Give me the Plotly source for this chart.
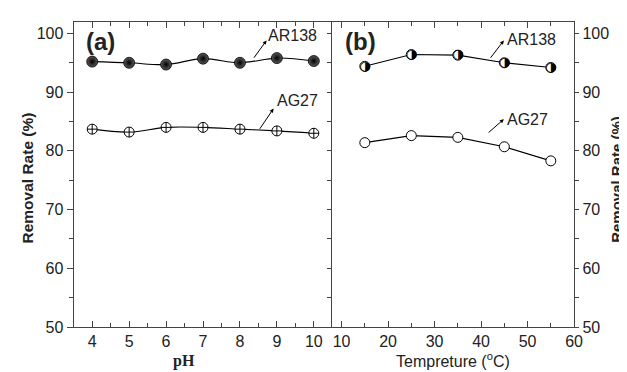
import plotly.graph_objects as go

# ---- data ----
ph = [4, 5, 6, 7, 8, 9, 10]
ph_ar138 = [95.2, 95.0, 94.7, 95.7, 95.0, 95.8, 95.3]
ph_ag27 = [83.7, 83.2, 84.0, 84.0, 83.7, 83.4, 83.0]

temp = [15, 25, 35, 45, 55]
t_ar138 = [94.4, 96.4, 96.3, 95.0, 94.2]
t_ag27 = [81.4, 82.6, 82.3, 80.7, 78.3]

y_ticks = [50, 60, 70, 80, 90, 100]

W, H = 627, 372
L_px, M_px, R_px = 66.7, 329.0, 574.3
T_px, B_px = 14.0, 327.0

AX = "#444444"
FONT = "Liberation Sans, Arial, sans-serif"

fig = go.Figure()

fig.add_trace(go.Scatter(x=ph, y=ph_ar138, mode="lines+markers",
                         line=dict(color="black", width=1.1, shape="spline"),
                         marker=dict(symbol="circle", size=11, color="#5a5a5a",
                                     gradient=dict(type="radial", color="#000000"),
                                     line=dict(color="black", width=0.8)),
                         xaxis="x", yaxis="y", showlegend=False))
fig.add_trace(go.Scatter(x=ph, y=ph_ag27, mode="lines+markers",
                         line=dict(color="black", width=1.1, shape="spline"),
                         marker=dict(symbol="circle-cross", size=10, color="white",
                                     line=dict(color="black", width=1)),
                         xaxis="x", yaxis="y", showlegend=False))

fig.add_trace(go.Scatter(x=temp, y=t_ar138, mode="lines+markers",
                         line=dict(color="black", width=1.1),
                         marker=dict(symbol="circle", size=10, color="white",
                                     line=dict(color="black", width=1)),
                         xaxis="x2", yaxis="y2", showlegend=False))
fig.add_trace(go.Scatter(x=temp, y=t_ar138, mode="text", text=["◑"] * len(temp),
                         textfont=dict(family="DejaVu Sans", size=13, color="black"),
                         textposition="middle center",
                         xaxis="x2", yaxis="y2", showlegend=False, hoverinfo="skip"))
fig.add_trace(go.Scatter(x=temp, y=t_ag27, mode="lines+markers",
                         line=dict(color="black", width=1.1),
                         marker=dict(symbol="circle", size=10, color="white",
                                     line=dict(color="black", width=1)),
                         xaxis="x2", yaxis="y2", showlegend=False))

xd1 = [L_px / W, M_px / W]
xd2 = [M_px / W, R_px / W]
yd = [1 - B_px / H, 1 - T_px / H]

common_x = dict(showline=True, linecolor=AX, linewidth=1.3, mirror="allticks",
                ticks="inside", ticklen=6, tickwidth=1.2, tickcolor=AX,
                showgrid=False, zeroline=False,
                tickfont=dict(family=FONT, size=16, color="#222"))
common_y = dict(showline=True, linecolor=AX, linewidth=1.3,
                ticks="outside", tickwidth=1.2, tickcolor=AX,
                showgrid=False, zeroline=False, range=[50, 102],
                tickvals=y_ticks,
                minor=dict(dtick=5, ticks="outside", ticklen=4, tickcolor=AX),
                tickfont=dict(family=FONT, size=16, color="#222"))

fig.update_layout(
    width=W, height=H, margin=dict(l=0, r=0, t=0, b=0),
    plot_bgcolor="white", paper_bgcolor="white",
    xaxis=dict(domain=xd1, anchor="y", range=[3.5, 10.5], dtick=1,
               minor=dict(dtick=0.5, ticks="inside", ticklen=4, tickcolor=AX),
               **common_x),
    yaxis=dict(domain=yd, anchor="x", side="left", mirror=False, ticklen=6, **common_y),
    xaxis2=dict(domain=xd2, anchor="y2", range=[8, 60], tickvals=[10, 20, 30, 40, 50, 60],
                minor=dict(dtick=5, ticks="inside", ticklen=4, tickcolor=AX),
                **common_x),
    yaxis2=dict(domain=yd, anchor="x2", side="right", mirror="allticks", ticklen=4,
                **common_y),
)

ann = []
ann.append(dict(text="<b>(a)</b>", x=3.78, y=101.3, xref="x", yref="y", xanchor="left",
                yanchor="top", showarrow=False, font=dict(family=FONT, size=24, color="#222")))
ann.append(dict(text="<b>(b)</b>", x=10.3, y=101.3, xref="x2", yref="y2", xanchor="left",
                yanchor="top", showarrow=False, font=dict(family=FONT, size=24, color="#222")))

def arrow_label(xr, yr, tail, head, txt, tpos):
    ann.append(dict(x=head[0], y=head[1], ax=tail[0], ay=tail[1], xref=xr, yref=yr,
                    axref=xr, ayref=yr, text="", showarrow=True, arrowhead=2,
                    arrowsize=0.8, arrowwidth=1, arrowcolor="black"))
    ann.append(dict(x=tpos[0], y=tpos[1], xref=xr, yref=yr, text=txt, showarrow=False,
                    xanchor="left", yanchor="middle",
                    font=dict(family=FONT, size=16, color="#222")))

arrow_label("x", "y", (8.35, 95.6), (8.72, 98.8), "AR138", (8.7, 99.7))
arrow_label("x", "y", (8.51, 83.5), (8.91, 87.2), "AG27", (8.95, 88.6))
arrow_label("x2", "y2", (41.8, 95.6), (44.9, 98.8), "AR138", (45.1, 99.0))
arrow_label("x2", "y2", (41.3, 82.9), (44.9, 85.4), "AG27", (45.1, 85.3))

ann.append(dict(text="<b>Removal Rate (%)</b>", x=20 / W, y=1 - 174 / H, xref="paper",
                yref="paper", textangle=-90, showarrow=False, xanchor="center",
                yanchor="middle", font=dict(family=FONT, size=15.5, color="#222")))
ann.append(dict(text="<b>Removal Rate (%)</b>", x=618 / W, y=1 - 176 / H, xref="paper",
                yref="paper", textangle=-90, showarrow=False, xanchor="center",
                yanchor="middle", font=dict(family=FONT, size=15, color="#222")))

ann.append(dict(text="<b>pH</b>", x=179 / W, y=1 - 362 / H, xref="paper", yref="paper",
                showarrow=False, xanchor="center", yanchor="middle",
                font=dict(family="Liberation Serif, Times New Roman, serif", size=16, color="#222")))
ann.append(dict(text="Tempreture (<sup>o</sup>C)", x=451 / W, y=1 - 361 / H, xref="paper",
                yref="paper", showarrow=False, xanchor="center", yanchor="middle",
                font=dict(family=FONT, size=16, color="#222")))

fig.update_layout(annotations=ann)
fig.write_html("out.html")
